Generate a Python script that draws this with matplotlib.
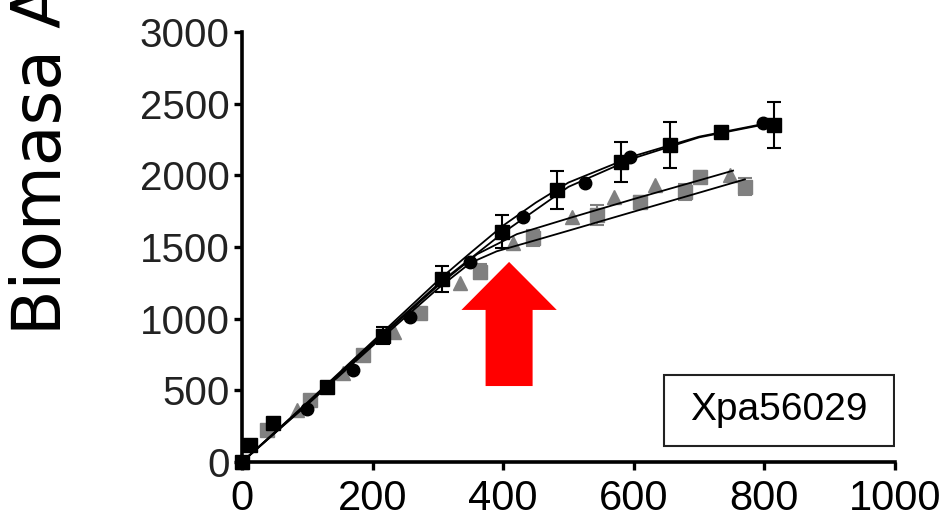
import matplotlib
matplotlib.use("Agg")
import matplotlib.pyplot as plt
from matplotlib.patches import FancyArrow, Rectangle

# ---- data ----
blk_sq_x = [0, 12, 48, 130, 216, 306, 398, 482, 581, 655, 733, 814]
blk_sq_y = [0, 119, 270, 522, 880, 1276, 1607, 1898, 2096, 2212, 2305, 2352]
blk_sq_e = [0, 15, 15, 20, 60, 90, 115, 130, 140, 163, 25, 163]

blk_ci_x = [0, 99, 170, 257, 349, 431, 525, 594, 798]
blk_ci_y = [0, 372, 642, 1014, 1398, 1712, 1945, 2126, 2363]

gry_sq_x = [38, 104, 186, 273, 364, 446, 543, 610, 678, 701, 770]
gry_sq_y = [223, 433, 747, 1037, 1328, 1565, 1724, 1816, 1886, 1991, 1921]
gry_sq_e = [20, 25, 30, 40, 50, 55, 70, 40, 55, 40, 60]

gry_tr_x = [0, 84, 155, 232, 334, 415, 505, 569, 632, 747]
gry_tr_y = [0, 363, 619, 909, 1247, 1526, 1712, 1851, 1933, 2003]

fit_b1_x = [0, 100, 200, 300, 350, 400, 450, 500, 600, 700, 800, 820]
fit_b1_y = [0, 410, 830, 1240, 1420, 1600, 1760, 1920, 2120, 2265, 2355, 2370]
fit_b2_x = [0, 100, 200, 300, 350, 400, 450, 500, 600, 700, 800]
fit_b2_y = [0, 415, 840, 1265, 1460, 1650, 1810, 1950, 2135, 2270, 2360]
fit_g1_x = [0, 100, 200, 300, 360, 421, 500, 600, 700, 752]
fit_g1_y = [0, 405, 820, 1230, 1450, 1590, 1700, 1835, 1965, 2033]
fit_g2_x = [0, 100, 200, 300, 350, 390, 450, 500, 600, 700, 770]
fit_g2_y = [0, 400, 810, 1210, 1390, 1470, 1548, 1614, 1747, 1879, 1972]

xticks = [0, 200, 400, 600, 800, 1000]
yticks = [0, 500, 1000, 1500, 2000, 2500, 3000]
label_text = "Xpa56029"
ylabel_text = "Biomasa Acumulada"

GRAY = "#808080"

fig = plt.figure(figsize=(9.48, 5.25), dpi=100)
ax = fig.add_axes([0.2553, 0.12, 0.6888, 0.819])

# fitted lines
for fx, fy in [(fit_g1_x, fit_g1_y), (fit_g2_x, fit_g2_y),
               (fit_b1_x, fit_b1_y), (fit_b2_x, fit_b2_y)]:
    ax.plot(fx, fy, color="black", lw=1.3, zorder=5, clip_on=False)

# gray series
ax.errorbar(gry_sq_x, gry_sq_y, yerr=gry_sq_e, fmt="s", color=GRAY, ms=10,
            capsize=5, elinewidth=1.5, capthick=1.5, zorder=3, clip_on=False)
ax.plot(gry_tr_x, gry_tr_y, "^", color=GRAY, ms=10, zorder=3, clip_on=False)

# black series
ax.errorbar(blk_sq_x, blk_sq_y, yerr=blk_sq_e, fmt="s", color="black", ms=10,
            capsize=5, elinewidth=1.5, capthick=1.5, zorder=4, clip_on=False)
ax.plot(blk_ci_x, blk_ci_y, "o", color="black", ms=9, zorder=4, clip_on=False)

# red arrow
ax.add_patch(FancyArrow(409, 530, 0, 866, width=72, head_width=146,
                        head_length=335, length_includes_head=True,
                        color="#ff0000", lw=0, zorder=6))

# label box
ax.add_patch(Rectangle((0.646, 0.037), 0.352, 0.165, transform=ax.transAxes,
                       fill=False, ec="#222222", lw=1.5, zorder=7))
ax.text(0.822, 0.121, label_text, transform=ax.transAxes, ha="center",
        va="center", fontsize=28, family="Liberation Sans", zorder=8)

ax.set_xlim(0, 1000)
ax.set_ylim(0, 3000)
ax.set_xticks(xticks)
ax.set_yticks(yticks)
ax.set_xticklabels([str(t) for t in xticks], fontsize=30, family="Liberation Sans")
ax.set_yticklabels([str(t) for t in yticks], fontsize=29, family="Liberation Sans",
                   color="#222222")
for s in ["top", "right"]:
    ax.spines[s].set_visible(False)
for s in ["left", "bottom"]:
    ax.spines[s].set_linewidth(2.6)
ax.tick_params(axis="both", direction="out", length=6, width=2.4)
ax.tick_params(axis="y", pad=3)
ax.tick_params(axis="x", pad=6)

fig.text(42 / 948, 1 - 335 / 525, ylabel_text, rotation=90, ha="center",
         va="bottom", fontsize=48, family="DejaVu Sans")

fig.savefig("out.png", dpi=100)
